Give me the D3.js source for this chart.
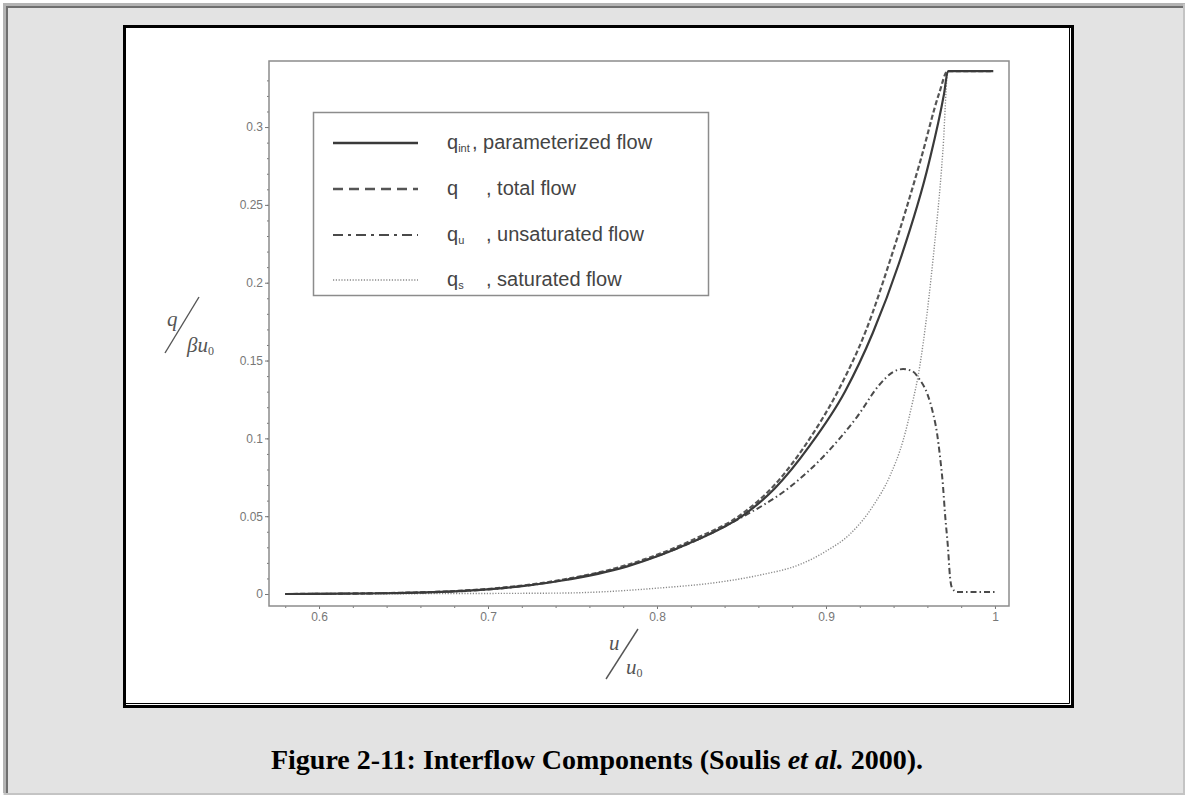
<html>

<head>
    <meta charset="UTF-8">
    <script src="https://d3js.org/d3.v7.min.js"></script>
    <style>
        body { margin: 0; background: #fff; }
    </style>
</head>

<body>
</body>
<script>
    // 刻度
    var xTicks = [0.6, 0.7, 0.8, 0.9, 1];
    var yTicks = [0, 0.05, 0.1, 0.15, 0.2, 0.25, 0.3];

    // q_int 参数化流量
    var qIntX = [0.58, 0.64, 0.68, 0.707, 0.743, 0.782, 0.821, 0.851, 0.8698, 0.8905, 0.9112, 0.9278, 0.9432, 0.9609, 0.9698, 0.9722, 0.999];
    var qIntY = [0, 0.0005, 0.0017, 0.0036, 0.0085, 0.0176, 0.0335, 0.0505, 0.068, 0.0955, 0.13, 0.168, 0.2125, 0.277, 0.321, 0.336, 0.336];

    // q 总流量
    var qTotX = [0.58, 0.64, 0.68, 0.707, 0.743, 0.782, 0.821, 0.851, 0.869, 0.889, 0.908, 0.924, 0.938, 0.956, 0.967, 0.972, 0.999];
    var qTotY = [0, 0.0006, 0.0019, 0.0039, 0.009, 0.0186, 0.0347, 0.052, 0.0694, 0.0976, 0.1323, 0.1702, 0.2146, 0.2788, 0.3218, 0.336, 0.336];

    // q_u 非饱和流量
    var qUX = [0.58, 0.64, 0.68, 0.707, 0.743, 0.782, 0.821, 0.8473, 0.8787, 0.8982, 0.9183, 0.932, 0.9396, 0.9456, 0.9509, 0.9556, 0.9598, 0.9633, 0.9657, 0.9675, 0.9692, 0.9704, 0.9722, 0.9734, 0.9746, 0.9775, 1.0];
    var qUY = [0, 0.0006, 0.0016, 0.0035, 0.0087, 0.018, 0.0334, 0.0476, 0.0688, 0.088, 0.1137, 0.1349, 0.1426, 0.1445, 0.1433, 0.1375, 0.1291, 0.1163, 0.1034, 0.088, 0.07, 0.052, 0.0296, 0.0109, 0.0039, 0.0013, 0.0013];

    // q_s 饱和流量
    var qSX = [0.58, 0.68, 0.743, 0.8018, 0.8373, 0.861, 0.8846, 0.9, 0.9142, 0.9278, 0.9379, 0.9456, 0.9515, 0.9544, 0.9586, 0.9633, 0.9692, 0.9722, 0.999];
    var qSY = [0, 0.0003, 0.0006, 0.0039, 0.0077, 0.0122, 0.019, 0.0275, 0.0385, 0.0565, 0.076, 0.0985, 0.1245, 0.1394, 0.17, 0.2146, 0.285, 0.336, 0.336];

    // 图例
    var legendSub = ["int", "", "u", "s"];
    var legendText = ["parameterized flow", "total flow", "unsaturated flow", "saturated flow"];

    var W = 1185, H = 795;
    var svg = d3.select("body").append("svg")
        .attr("width", W)
        .attr("height", H);

    // 页面背景和边框
    svg.append("rect").attr("x", 3).attr("y", 3).attr("width", W - 3).attr("height", H - 3).attr("fill", "#e3e3e3");
    svg.append("path").attr("d", "M4.5," + (H - 2) + "V4.5H" + W).attr("fill", "none").attr("stroke", "#b4b4b4").attr("stroke-width", 3);
    svg.append("path").attr("d", "M7," + (H - 2) + "V7H" + (W - 2)).attr("fill", "none").attr("stroke", "#6f6f6f").attr("stroke-width", 2);
    svg.append("path").attr("d", "M" + (W - 1) + ",4V" + (H - 1) + "H4").attr("fill", "none").attr("stroke", "#c4c4c4").attr("stroke-width", 2);

    // 白色图框
    svg.append("rect").attr("x", 124.5).attr("y", 26.5).attr("width", 948).attr("height", 680)
        .attr("fill", "#fff").attr("stroke", "#000").attr("stroke-width", 3);
    svg.append("path").attr("d", "M1069.5,27V703.5H125").attr("fill", "none").attr("stroke", "#000").attr("stroke-width", 1);

    var x = d3.scaleLinear().domain([0.5704, 1.0083]).range([269, 1009]);
    var y = d3.scaleLinear().domain([-0.0077, 0.3418]).range([606, 62]);

    var sans = "'Liberation Sans', Arial, sans-serif";
    var serif = "'Liberation Serif', 'Times New Roman', serif";

    // 坐标轴
    var gy = svg.append("g").attr("transform", "translate(269,0)")
        .call(d3.axisLeft(y).tickValues(yTicks).tickSize(4).tickPadding(2).tickFormat(function (d) { return d; }));
    var gyMinor = svg.append("g").attr("transform", "translate(269,0)")
        .call(d3.axisLeft(y).tickValues(d3.range(0, 34).map(function (i) { return i / 100; })).tickSize(2).tickFormat(""));
    var gx = svg.append("g").attr("transform", "translate(0,606)")
        .call(d3.axisBottom(x).tickValues(xTicks).tickSize(3).tickPadding(3).tickFormat(function (d) { return d; }));
    var gxMinor = svg.append("g").attr("transform", "translate(0,606)")
        .call(d3.axisBottom(x).tickValues(d3.range(29, 51).map(function (i) { return i / 50; })).tickSize(2).tickFormat(""));

    [gy, gyMinor, gx, gxMinor].forEach(function (g) {
        g.select(".domain").remove();
        g.selectAll("line").attr("stroke", "#777");
        g.selectAll("text").attr("fill", "#777").style("font-family", sans).style("font-size", "12px");
    });

    // 外框
    svg.append("rect").attr("x", 269).attr("y", 61).attr("width", 740).attr("height", 545)
        .attr("fill", "none").attr("stroke", "#8c8c8c").attr("stroke-width", 1.5);

    function zip(xs, ys) {
        return xs.map(function (v, i) { return [v, ys[i]]; });
    }

    var line = d3.line()
        .x(function (d) { return x(d[0]); })
        .y(function (d) { return y(d[1]); })
        .curve(d3.curveMonotoneX);

    var series = [
        { data: zip(qSX, qSY), color: "#8a8a8a", width: 1.4, dash: "1.2,1.6" },
        { data: zip(qUX, qUY), color: "#4a4a4a", width: 2, dash: "6,3,1.5,3" },
        { data: zip(qTotX, qTotY), color: "#555", width: 2.2, dash: "5,2.5" },
        { data: zip(qIntX, qIntY), color: "#3a3a3a", width: 2.2, dash: null }
    ];

    svg.selectAll(".curve")
        .data(series)
        .enter()
        .append("path")
        .attr("class", "curve")
        .attr("d", function (d) { return line(d.data); })
        .attr("fill", "none")
        .attr("stroke", function (d) { return d.color; })
        .attr("stroke-width", function (d) { return d.width; })
        .attr("stroke-dasharray", function (d) { return d.dash; });

    // 图例
    svg.append("rect").attr("x", 313.5).attr("y", 112.5).attr("width", 395).attr("height", 183)
        .attr("fill", "#fff").attr("stroke", "#8c8c8c").attr("stroke-width", 1.5);

    var legendStyle = [
        { color: "#3a3a3a", width: 2.5, dash: null },
        { color: "#555", width: 2.5, dash: "10,6" },
        { color: "#4a4a4a", width: 2.2, dash: "10,5,3,5" },
        { color: "#8a8a8a", width: 1.6, dash: "1.2,1.6" }
    ];
    var rowY = [143, 189, 235, 280];

    var lg = svg.selectAll(".legend")
        .data(legendText)
        .enter()
        .append("g")
        .attr("class", "legend")
        .attr("transform", function (d, i) { return "translate(0," + rowY[i] + ")"; });

    lg.append("line")
        .attr("x1", 333).attr("x2", 418).attr("y1", 0).attr("y2", 0)
        .attr("stroke", function (d, i) { return legendStyle[i].color; })
        .attr("stroke-width", function (d, i) { return legendStyle[i].width; })
        .attr("stroke-dasharray", function (d, i) { return legendStyle[i].dash; });

    var lt = lg.append("text")
        .attr("x", 447).attr("y", 6)
        .attr("fill", "#444")
        .style("font-family", sans)
        .style("font-size", "20px");
    lt.append("tspan").text("q");
    lt.append("tspan").attr("dy", 3).style("font-size", "11px").text(function (d, i) { return legendSub[i]; });

    lg.append("text")
        .attr("x", function (d, i) { return i === 0 ? 472 : 486; })
        .attr("y", 6)
        .attr("fill", "#444")
        .style("font-family", sans)
        .style("font-size", "20px")
        .text(function (d) { return ", " + d; });

    // y 轴标题 q / βu0
    var ylab = svg.append("g").attr("fill", "#555").style("font-family", serif).style("font-style", "italic");
    ylab.append("text").attr("x", 167).attr("y", 326).style("font-size", "21px").text("q");
    ylab.append("line").attr("x1", 165).attr("y1", 353).attr("x2", 199).attr("y2", 297)
        .attr("stroke", "#555").attr("stroke-width", 1.4);
    var yb = ylab.append("text").attr("x", 187).attr("y", 352).style("font-size", "21px");
    yb.append("tspan").text("βu");
    yb.append("tspan").attr("dy", 3).style("font-size", "12px").style("font-style", "normal").text("0");

    // x 轴标题 u / u0
    var xlab = svg.append("g").attr("fill", "#555").style("font-family", serif).style("font-style", "italic");
    xlab.append("text").attr("x", 609).attr("y", 650).style("font-size", "21px").text("u");
    xlab.append("line").attr("x1", 606).attr("y1", 679).attr("x2", 638).attr("y2", 629)
        .attr("stroke", "#555").attr("stroke-width", 1.4);
    var xb = xlab.append("text").attr("x", 626).attr("y", 674).style("font-size", "21px");
    xb.append("tspan").text("u");
    xb.append("tspan").attr("dy", 3).style("font-size", "12px").style("font-style", "normal").text("0");

    // 图注
    var cap = svg.append("text")
        .attr("x", 597).attr("y", 769)
        .attr("text-anchor", "middle")
        .style("font-family", serif)
        .style("font-weight", "bold")
        .style("font-size", "28px");
    cap.append("tspan").text("Figure 2-11: Interflow Components (Soulis ");
    cap.append("tspan").style("font-style", "italic").text("et al.");
    cap.append("tspan").text(" 2000).");

</script>

</html>
